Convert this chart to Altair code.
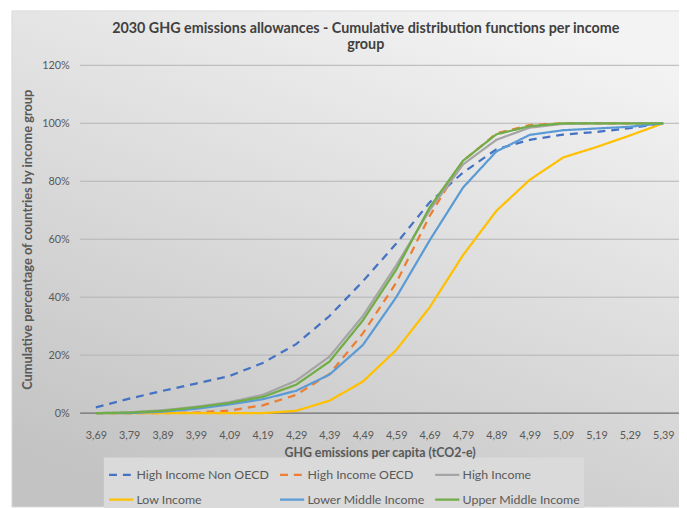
import altair as alt
import pandas as pd

# ---- data ----
x_labels = ["3,69", "3,79", "3,89", "3,99", "4,09", "4,19", "4,29", "4,39", "4,49",
            "4,59", "4,69", "4,79", "4,89", "4,99", "5,09", "5,19", "5,29", "5,39"]

series_names = ["High Income Non OECD", "High Income OECD", "High Income",
                "Low Income", "Lower Middle Income", "Upper Middle Income"]

high_income_non_oecd = [2, 5, 7.7, 10.2, 12.8, 17.3, 23.8, 33.5, 45.5, 58.5, 72.7, 83, 91, 94.3, 96.1, 97, 98.3, 100]
high_income_oecd = [0, 0, 0, 0.2, 0.9, 2.7, 6.3, 13.5, 27.5, 45, 68, 87, 96.5, 99.4, 100, 100, 100, 100]
high_income = [0, 0.3, 1, 2.2, 3.8, 6.3, 11.2, 19.5, 33.5, 51, 70, 85.8, 94.3, 98.5, 99.8, 100, 100, 100]
low_income = [0, 0, 0, 0, 0, 0, 0.8, 4.3, 10.9, 21.8, 36.5, 54.5, 69.8, 80.5, 88.2, 91.8, 95.8, 100]
lower_middle_income = [0, 0, 0.5, 1.5, 3, 4.8, 7.7, 13.3, 23.5, 40, 59.6, 77.8, 90.3, 96, 97.6, 98.2, 98.8, 100]
upper_middle_income = [0, 0.2, 0.8, 2, 3.5, 5.6, 9.8, 17.8, 32, 49.5, 71, 87.1, 96.2, 99, 100, 100, 100, 100]

y_ticks = [0, 20, 40, 60, 80, 100, 120]

series_values = [high_income_non_oecd, high_income_oecd, high_income,
                 low_income, lower_middle_income, upper_middle_income]
colors = ["#4472C4", "#ED7D31", "#A5A5A5", "#FFC000", "#5B9BD5", "#70AD47"]
dashes = [[8, 6], [8, 6], [1, 0], [1, 0], [1, 0], [1, 0]]

rows = []
for name, vals in zip(series_names, series_values):
    for lab, v in zip(x_labels, vals):
        rows.append({"x": lab, "v": v, "series": name})
df = pd.DataFrame(rows)

W, H = 606, 352
PAD = {"left": 73, "top": 55, "right": 0, "bottom": 93}

FONT = "Lato"
TXT = "#595959"

y_scale = alt.Scale(domain=[0, 120], nice=False)
y_axis = alt.Axis(values=y_ticks, labelExpr="datum.value + '%'", grid=False, domain=False,
                  ticks=False, labelPadding=11, labelFont=FONT, labelFontSize=11,
                  labelColor=TXT, title="Cumulative percentage of countries by income group",
                  titleFont=FONT, titleFontSize=13, titleFontWeight="bold", titleColor=TXT,
                  titlePadding=7, zindex=1)

# background gradient panel
bg = alt.Chart(alt.Data(values=[{}])).mark_rect(
    color=alt.LinearGradient(
        gradient="linear",
        stops=[alt.GradientStop(color="#f3f3f3", offset=0),
               alt.GradientStop(color="#c3c3c3", offset=1)],
        x1=0.75, y1=0, x2=0.25, y2=1),
    stroke="#d9d9d9", strokeWidth=1
).encode(
    x=alt.value(-69), x2=alt.value(W + PAD["right"] + 2),
    y=alt.value(-PAD["top"]), y2=alt.value(H + PAD["bottom"] + 2)
)

grid = alt.Chart(pd.DataFrame({"v": y_ticks[1:]})).mark_rule(
    color="#b4b4b4", strokeWidth=1
).encode(y=alt.Y("v:Q", scale=y_scale, axis=y_axis))

base = alt.Chart(pd.DataFrame({"v": [0]})).mark_rule(
    color="#6e6e6e", strokeWidth=1.3
).encode(y=alt.Y("v:Q", scale=y_scale, axis=y_axis))

legend = alt.Legend(orient="none", legendX=24, legendY=397, columns=3, direction="horizontal",
                    title=None, fillColor="#dadada", padding=4, columnPadding=5, rowPadding=5,
                    symbolType="stroke", symbolSize=600, symbolStrokeWidth=2.25,
                    labelFont=FONT, labelFontSize=12.5, labelColor=TXT, labelOffset=2,
                    labelLimit=300)

lines = alt.Chart(df).mark_line(strokeWidth=2.25).encode(
    x=alt.X("x:O", sort=x_labels,
            scale=alt.Scale(type="point", padding=0.47),
            axis=alt.Axis(labelAngle=0, grid=False, domain=False, ticks=False,
                          labelPadding=17, labelFont=FONT, labelFontSize=11,
                          labelColor=TXT, title="GHG emissions per capita (tCO2-e)",
                          titleFont=FONT, titleFontSize=12.5, titleFontWeight="bold",
                          titleColor=TXT, titlePadding=6, zindex=1)),
    y=alt.Y("v:Q", scale=y_scale, axis=y_axis),
    color=alt.Color("series:N", sort=series_names,
                    scale=alt.Scale(domain=series_names, range=colors), legend=legend),
    strokeDash=alt.StrokeDash("series:N", sort=series_names,
                              scale=alt.Scale(domain=series_names, range=dashes), legend=legend),
    order=alt.Order("x:O"),
)

chart = alt.layer(bg, grid, base, lines).properties(
    width=W, height=H,
    autosize=alt.AutoSizeParams(type="none"),
    padding=PAD,
    title=alt.TitleParams(
        text=["2030 GHG emissions allowances - Cumulative distribution functions per income", "group"],
        font=FONT, fontSize=14.5, fontWeight="bold", color="#404040",
        anchor="middle", frame="group", dx=-14, dy=55, offset=12, lineHeight=17, zindex=1),
).configure_view(stroke=None).configure(background="white")

chart.save("out.html", embed_options={"renderer": "svg", "actions": False})
